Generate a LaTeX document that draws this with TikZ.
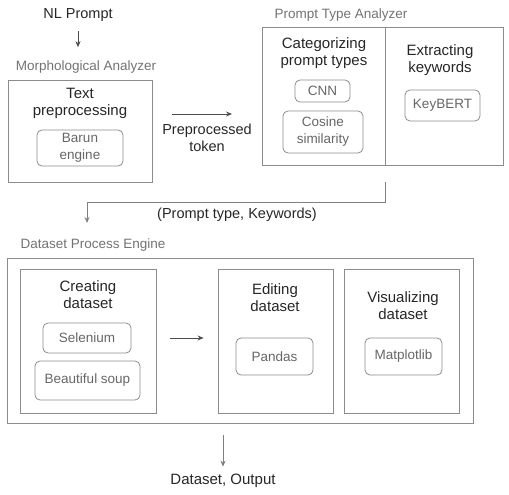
\documentclass[tikz,border=0pt]{standalone}
\usepackage{fontspec}
\setmainfont{Liberation Sans}
\usetikzlibrary{positioning, arrows.meta}

\begin{document}
\begin{tikzpicture}[>={Stealth[length=6pt, width=5pt]}, x=1pt, y=-1pt,
					box/.style={draw=black!45, line width=0.9pt, inner sep=0pt},
					tool/.style={draw=black!45, line width=0.8pt, rounded corners=5pt, inner sep=0pt,
						align=center, text=black!60, font=\fontsize{13.5}{17}\selectfont},
					ttl/.style={align=center, text=black!85, font=\fontsize{15}{17}\selectfont},
					lbl/.style={text=black!55, font=\fontsize{13.5}{16}\selectfont},
					msg/.style={align=center, text=black!85, font=\fontsize{14.5}{17}\selectfont},
					seta/.style={->, draw=black!70, line width=0.8pt} ]
	\useasboundingbox (0,0) rectangle (509,495);
	
	%Analisador morfologico:
	\node[msg]  (nl)       at (78,15)   {NL Prompt};
	\node[lbl]  (morphlbl) at (86,67)   {Morphological Analyzer};
	\node[box, minimum width=144pt, minimum height=102pt] (morph) at (80,131) {};
	\node[ttl]  (textpre)  at (80,103)  {Text\\preprocessing};
	\node[tool, minimum width=86pt, minimum height=36pt] (barun) at (80,148) {Barun\\engine};
	
	%Analisador de tipo:
	\node[lbl]  (ptalbl)   at (341,15)  {Prompt Type Analyzer};
	\node[box, minimum width=241pt, minimum height=138pt] (pta) at (382.5,96) {};
	\coordinate (div) at (385,165);
	\draw[box] (div |- pta.north) -- (div);
	\node[ttl]  (cat)      at (324,53)  {Categorizing\\prompt types};
	\node[tool, minimum width=55pt, minimum height=22pt] (cnn) at (322.5,91) {CNN};
	\node[tool, minimum width=80pt, minimum height=42pt] (cosine) at (323,132) {Cosine\\similarity};
	\node[ttl]  (ext)      at (440,60)  {Extracting\\keywords};
	\node[tool, minimum width=75pt, minimum height=31pt] (keybert) at (442.5,105.5) {KeyBERT};
	
	\coordinate (tok1) at (172,114);
	\coordinate (tok2) at (232,114);
	\node[msg]  (tok)      at (207,138) {Preprocessed\\token};
	
	%Motor de processamento:
	\node[lbl]  (dpelbl)   at (93,245)  {Dataset Process Engine};
	\node[box, minimum width=466pt, minimum height=165pt] (dpe) at (240,340.5) {};
	\node[box, minimum width=136pt, minimum height=144pt] (create) at (88,341) {};
	\node[ttl]  (createttl) at (88,295) {Creating\\dataset};
	\node[tool, minimum width=88pt, minimum height=30pt] (selenium) at (87,338) {Selenium};
	\node[tool, minimum width=105pt, minimum height=39pt] (soup) at (87.5,380.5) {Beautiful soup};
	\node[box, minimum width=115pt, minimum height=144pt] (edit) at (275.5,341) {};
	\node[ttl]  (editttl)  at (275,298) {Editing\\dataset};
	\node[tool, minimum width=77pt, minimum height=37pt] (pandas) at (274.5,356.5) {Pandas};
	\node[box, minimum width=115pt, minimum height=144pt] (vis) at (401.5,341) {};
	\node[ttl]  (visttl)   at (403,306) {Visualizing\\dataset};
	\node[tool, minimum width=77pt, minimum height=37pt] (matplot) at (403.5,356.5) {Matplotlib};
	
	\coordinate (kw) at (87,223);
	\node[msg]  (kwlbl)    at (237,215) {(Prompt type, Keywords)};
	\node[msg, font=\fontsize{15}{17}\selectfont] (outp) at (223,481) {Dataset, Output};
	
	%Transicoes:
	\draw[seta, shorten <=6pt, shorten >=10pt] (nl.south) -- (nl.south |- morphlbl.north);
	\draw[seta] (tok1) -- (tok2);
	\draw[seta, draw=black!50, shorten <=17pt] (div) -- ++(0,37) -| (kw);
	\draw[seta, shorten <=14pt, shorten >=14pt] (create.east |- selenium) -- (edit.west |- selenium);
	\draw[seta, draw=black!50, shorten <=12pt, shorten >=4pt] (outp.north |- dpe.south) -- (outp.north);
\end{tikzpicture}
\end{document}
